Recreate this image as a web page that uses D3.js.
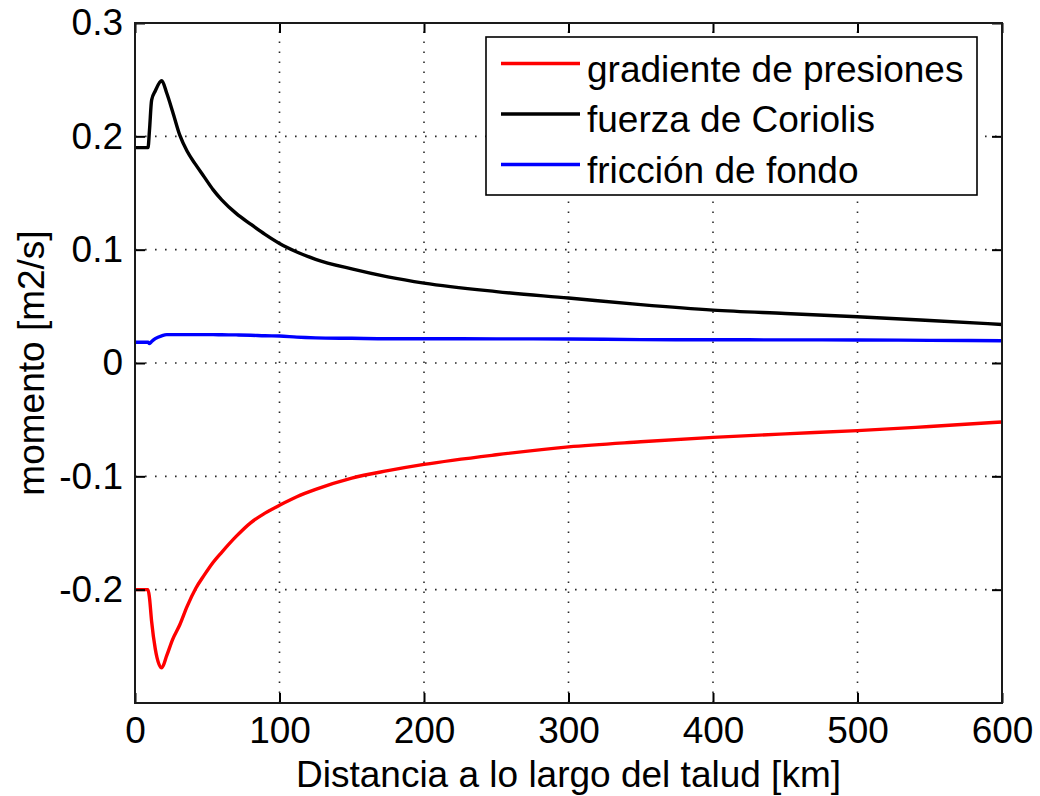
<!DOCTYPE html>
<html>
<head>
<meta charset="utf-8">
<script src="https://cdn.jsdelivr.net/npm/d3@7"></script>
<style>
  html, body { margin: 0; padding: 0; background: #fff; }
  svg { display: block; }
  text { font-family: "Liberation Sans", Arial, Helvetica, sans-serif; fill: #000; }
</style>
</head>
<body>
<svg id="chart" width="1040" height="796"></svg>
<script>
// Along-slope distance samples (km)
const distanceKm = [0, 9, 10, 11.5, 14, 18.5, 22, 26, 31, 36, 42, 48, 54, 60, 70, 80, 90, 100,
                    112, 125, 150, 175, 200, 250, 300, 350, 400, 450, 500, 550, 600];

// Momentum balance terms (m2/s)
const pressureGradient = [-0.200, -0.200, -0.207, -0.228, -0.252, -0.269, -0.258, -0.244, -0.231,
                          -0.215, -0.199, -0.187, -0.176, -0.167, -0.153, -0.141, -0.1325, -0.1255,
                          -0.118, -0.1115, -0.1015, -0.095, -0.0895, -0.081, -0.074, -0.0695,
                          -0.0656, -0.0625, -0.0597, -0.056, -0.052];
const coriolisForce = [0.190, 0.190, 0.205, 0.232, 0.240, 0.249, 0.238, 0.222, 0.201, 0.187,
                       0.175, 0.164, 0.153, 0.144, 0.132, 0.1225, 0.1135, 0.1055, 0.098, 0.0915,
                       0.083, 0.076, 0.0705, 0.063, 0.0573, 0.0515, 0.0467, 0.0437, 0.0408,
                       0.0375, 0.034];
const bottomFriction = [0.0183, 0.0183, 0.0172, 0.019, 0.0215, 0.0240, 0.0250, 0.0250, 0.0250,
                        0.0250, 0.0250, 0.0250, 0.0250, 0.0249, 0.0248, 0.0245, 0.0240, 0.0238,
                        0.0228, 0.0222, 0.0218, 0.0214, 0.0214, 0.0213, 0.0212, 0.0206, 0.0205,
                        0.0204, 0.0203, 0.0200, 0.0196];

const seriesNames = ["gradiente de presiones", "fuerza de Coriolis", "fricción de fondo"];
const seriesColors = ["#ff0000", "#000000", "#0000ff"];

const xTicks = [0, 100, 200, 300, 400, 500, 600];
const yTicks = [-0.2, -0.1, 0, 0.1, 0.2, 0.3];
const yTickLabels = ["-0.2", "-0.1", "0", "0.1", "0.2", "0.3"];

const xLabel = "Distancia a lo largo del talud [km]";
const yLabel = "momento [m2/s]";

// Layout
const plot = { left: 135, right: 1002, top: 23, bottom: 703 };
const fontSize = 37;

const svg = d3.select("#chart");

const x = d3.scaleLinear().domain([0, 600]).range([plot.left, plot.right]);
const y = d3.scaleLinear().domain([-0.3, 0.3]).range([plot.bottom, plot.top]);

// Dotted grid
const grid = svg.append("g").attr("stroke", "#2a2a2a").attr("stroke-width", 1.6)
  .attr("stroke-dasharray", "1.6,8.4");
grid.selectAll("line.vx").data(xTicks.filter(d => d > 0 && d < 600)).join("line")
  .attr("class", "vx")
  .attr("x1", d => x(d)).attr("x2", d => x(d))
  .attr("y1", plot.bottom).attr("y2", plot.top);
grid.selectAll("line.hy").data(yTicks.filter(d => d < 0.3)).join("line")
  .attr("class", "hy")
  .attr("x1", plot.left).attr("x2", plot.right)
  .attr("y1", d => y(d)).attr("y2", d => y(d));

// Data lines
svg.append("defs").append("clipPath").attr("id", "plotClip")
  .append("rect").attr("x", plot.left).attr("y", plot.top)
  .attr("width", plot.right - plot.left).attr("height", plot.bottom - plot.top);

const seriesValues = [pressureGradient, coriolisForce, bottomFriction];
const line = d3.line()
  .x((d, i) => x(distanceKm[i]))
  .y(d => y(d))
  .curve(d3.curveMonotoneX);
const lines = svg.append("g").attr("clip-path", "url(#plotClip)");
seriesValues.forEach((vals, k) => {
  lines.append("path").datum(vals)
    .attr("d", line)
    .attr("fill", "none")
    .attr("stroke", seriesColors[k])
    .attr("stroke-width", 3.4)
    .attr("stroke-linejoin", "round");
});

// Axes: ticks pointing inward on all four sides
const tickLen = 10;
const xAxisBottom = d3.axisBottom(x).tickValues(xTicks).tickSize(-tickLen).tickPadding(14)
  .tickFormat(d3.format("d"));
const xAxisTop = d3.axisTop(x).tickValues(xTicks).tickSize(-tickLen).tickFormat("");
const yAxisLeft = d3.axisLeft(y).tickValues(yTicks).tickSize(-tickLen).tickPadding(12)
  .tickFormat((d, i) => yTickLabels[i]);
const yAxisRight = d3.axisRight(y).tickValues(yTicks).tickSize(-tickLen).tickFormat("");

function styleAxis(g) {
  g.select(".domain").remove();
  g.selectAll(".tick line").attr("stroke", "#000").attr("stroke-width", 2);
  g.selectAll(".tick text").attr("font-size", fontSize)
    .attr("font-family", "'Liberation Sans', Arial, sans-serif").attr("fill", "#000");
}

svg.append("g").attr("transform", `translate(0,${plot.bottom})`).call(xAxisBottom).call(styleAxis);
svg.append("g").attr("transform", `translate(0,${plot.top})`).call(xAxisTop).call(styleAxis);
svg.append("g").attr("transform", `translate(${plot.left},0)`).call(yAxisLeft).call(styleAxis);
svg.append("g").attr("transform", `translate(${plot.right},0)`).call(yAxisRight).call(styleAxis);

// Axes box
svg.append("rect")
  .attr("x", plot.left).attr("y", plot.top)
  .attr("width", plot.right - plot.left).attr("height", plot.bottom - plot.top)
  .attr("fill", "none").attr("stroke", "#1a1a1a").attr("stroke-width", 2);

// Axis titles
svg.append("text")
  .attr("x", (plot.left + plot.right) / 2).attr("y", 787)
  .attr("text-anchor", "middle").attr("font-size", fontSize)
  .text(xLabel);
svg.append("text")
  .attr("transform", `translate(44,${(plot.top + plot.bottom) / 2}) rotate(-90)`)
  .attr("text-anchor", "middle").attr("font-size", fontSize)
  .text(yLabel);

// Legend
const legend = { x: 486, y: 37, w: 491, h: 158 };
const lg = svg.append("g");
lg.append("rect")
  .attr("x", legend.x).attr("y", legend.y).attr("width", legend.w).attr("height", legend.h)
  .attr("fill", "#fff").attr("stroke", "#000").attr("stroke-width", 1.6);
seriesNames.forEach((name, k) => {
  const cy = 63.5 + k * 50.5;
  lg.append("line")
    .attr("x1", 501).attr("x2", 580).attr("y1", cy).attr("y2", cy)
    .attr("stroke", seriesColors[k]).attr("stroke-width", 3.4);
  lg.append("text")
    .attr("x", 587).attr("y", cy + 18)
    .attr("font-size", fontSize)
    .text(name);
});
</script>
</body>
</html>
